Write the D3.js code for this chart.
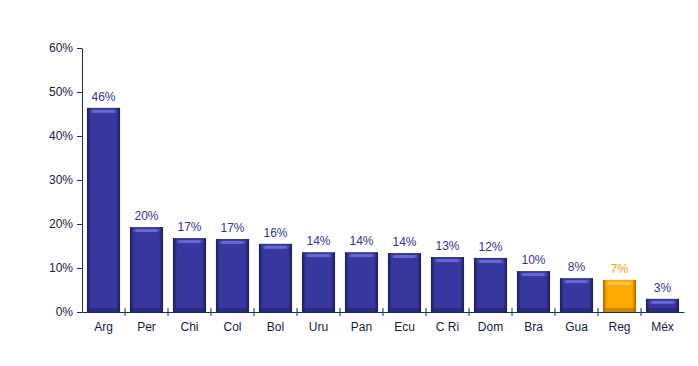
<!DOCTYPE html>
<html>
<head>
<meta charset="utf-8">
<script src="https://cdn.jsdelivr.net/npm/d3@7"></script>
<style>
  body { margin: 0; background: #fff; }
  text { font-family: "Liberation Sans", Arial, sans-serif; }
</style>
</head>
<body>
<script>
var categories = ["Arg", "Per", "Chi", "Col", "Bol", "Uru", "Pan", "Ecu", "C Ri", "Dom", "Bra", "Gua", "Reg", "Méx"];
var values = [0.464, 0.193, 0.168, 0.166, 0.155, 0.136, 0.136, 0.134, 0.125, 0.123, 0.093, 0.077, 0.073, 0.030];
var labels = ["46%", "20%", "17%", "17%", "16%", "14%", "14%", "14%", "13%", "12%", "10%", "8%", "7%", "3%"];
var yTicks = [0, 0.1, 0.2, 0.3, 0.4, 0.5, 0.6];
var highlight = "Reg";

var width = 698, height = 366;
var mLeft = 82, mRight = 684, mTop = 48, mBottom = 312;

var svg = d3.select("body").append("svg")
    .attr("width", width)
    .attr("height", height);

var defs = svg.append("defs");

// bevel gradients for the two colours
function bevel(id, dark, mid, light) {
    var h = defs.append("linearGradient").attr("id", id + "_h")
        .attr("x1", "0%").attr("x2", "100%").attr("y1", "0%").attr("y2", "0%");
    [[0, dark], [0.12, mid], [0.88, mid], [1, dark]].forEach(function(s) {
        h.append("stop").attr("offset", s[0]).attr("stop-color", s[1]);
    });
    var t = defs.append("linearGradient").attr("id", id + "_t")
        .attr("x1", "0%").attr("x2", "100%").attr("y1", "0%").attr("y2", "0%");
    [[0, mid, 0], [0.18, light, 0.9], [0.82, light, 0.9], [1, mid, 0]].forEach(function(s) {
        t.append("stop").attr("offset", s[0]).attr("stop-color", s[1]).attr("stop-opacity", s[2]);
    });
}
bevel("blue", "#1c1c58", "#3737a0", "#6c6cdc");
bevel("orange", "#a86a00", "#ffa800", "#ffc850");

var x = d3.scaleBand()
    .domain(categories)
    .range([mLeft, mRight])
    .paddingInner(0.23)
    .paddingOuter(0.115);

var y = d3.scaleLinear()
    .domain([0, 0.6])
    .range([mBottom, mTop]);

var data = categories.map(function(c, i) { return {cat: c, v: values[i], lab: labels[i]}; });

var bars = svg.append("g").selectAll("g")
    .data(data)
    .enter().append("g");

function kind(d) { return d.cat === highlight ? "orange" : "blue"; }

bars.append("rect")
    .attr("x", function(d) { return x(d.cat); })
    .attr("y", function(d) { return y(d.v); })
    .attr("width", x.bandwidth())
    .attr("height", function(d) { return mBottom - y(d.v); })
    .style("fill", function(d) { return "url(#" + kind(d) + "_h)"; });

// top bevel
bars.append("rect")
    .attr("x", function(d) { return x(d.cat) + 1; })
    .attr("y", function(d) { return y(d.v) + 2; })
    .attr("width", x.bandwidth() - 2)
    .attr("height", 3)
    .style("fill", function(d) { return "url(#" + kind(d) + "_t)"; });

// bottom shade
bars.append("rect")
    .attr("x", function(d) { return x(d.cat); })
    .attr("y", mBottom - 4)
    .attr("width", x.bandwidth())
    .attr("height", 4)
    .style("fill", function(d) { return kind(d) === "orange" ? "#a86a00" : "#20205e"; })
    .style("opacity", 0.55);

bars.append("text")
    .attr("x", function(d) { return x(d.cat) + x.bandwidth() / 2; })
    .attr("y", function(d) { return y(d.v) - 7; })
    .attr("text-anchor", "middle")
    .style("font-size", "12px")
    .style("fill", function(d) { return kind(d) === "orange" ? "#f0a020" : "#333399"; })
    .text(function(d) { return d.lab; });

// y axis
var yAxis = svg.append("g")
    .attr("transform", "translate(" + mLeft + ",0)")
    .call(d3.axisLeft(y).tickValues(yTicks).tickFormat(d3.format(".0%")).tickSize(5).tickSizeOuter(0));

// x axis with ticks at category boundaries
var xAxis = svg.append("g")
    .attr("transform", "translate(0," + mBottom + ")")
    .call(d3.axisBottom(x).tickSize(0).tickSizeOuter(0));

var step = x.step();
xAxis.selectAll(".bound")
    .data(categories.slice(1))
    .enter().append("line")
    .attr("x1", function(d, i) { return mLeft + step * (i + 1); })
    .attr("x2", function(d, i) { return mLeft + step * (i + 1); })
    .attr("y1", -4)
    .attr("y2", 4)
    .attr("stroke", "#1a2a5a");

[yAxis, xAxis].forEach(function(a) {
    a.select(".domain").attr("stroke", "#1a2a5a");
    a.selectAll(".tick line").attr("stroke", "#1a2a5a");
    a.selectAll("text")
        .style("font-size", "12px")
        .style("font-family", "Liberation Sans, Arial, sans-serif")
        .attr("fill", "#1a1a40");
});
yAxis.selectAll("text").attr("x", -9);
xAxis.selectAll("text").attr("y", 10);
</script>
</body>
</html>
